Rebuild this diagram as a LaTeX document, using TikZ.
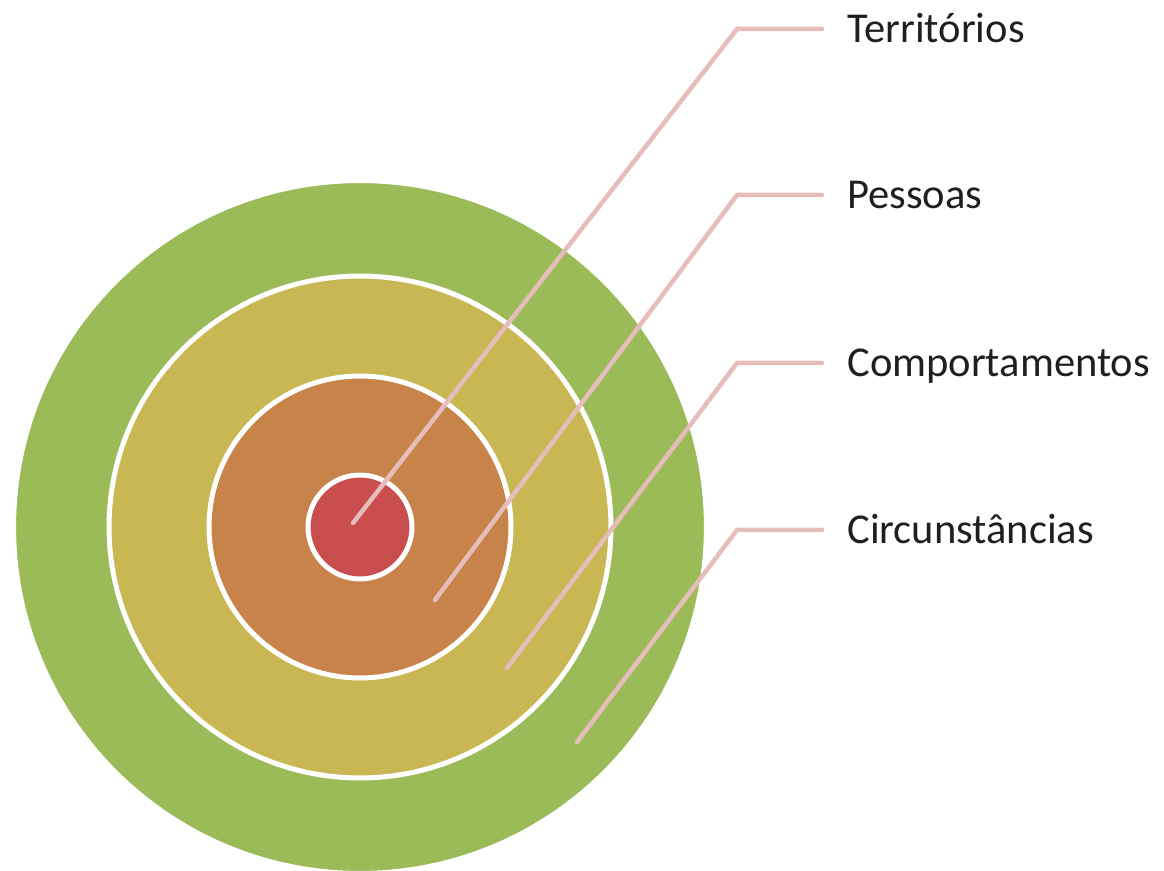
\documentclass[tikz,border=0pt]{standalone}
\usepackage{fontspec}
\setmainfont{Carlito}
\usetikzlibrary{positioning}

\definecolor{ringgreen}{HTML}{9BBB59}
\definecolor{ringolive}{HTML}{C8B752}
\definecolor{ringorange}{HTML}{C8834B}
\definecolor{ringred}{HTML}{CB4E4E}
\definecolor{leaderpink}{HTML}{E6BDBA}
\definecolor{textgray}{HTML}{1F1F1F}

\begin{document}
\begin{tikzpicture}[x=0.02cm, y=-0.02cm,
  ring/.style={circle, draw=white, line width=0.1cm, inner sep=0pt},
  leader/.style={draw=leaderpink, line width=0.09cm, line cap=round},
  itemtext/.style={anchor=west, inner sep=0pt, text=textgray,
    text height=19.4pt, text depth=3.9pt, font=\fontsize{24.2}{29}\selectfont}]
\useasboundingbox (0,0) rectangle (1164,871);

% rings, outside in
\node[ring, fill=ringgreen, minimum size=13.86cm] (circRing) at (360,527) {};
\node[ring, fill=ringolive, minimum size=10.04cm] (compRing) at (360,527) {};
\node[ring, fill=ringorange, minimum size=6.04cm] (pessRing) at (360,527) {};
\node[ring, fill=ringred, minimum size=2.08cm] (terrRing) at (360,527) {};

% leader ends and bends
\coordinate (terrIn) at (353,523);
\coordinate (terrBend) at (737,29);
\coordinate (terrTip) at (822,29);
\coordinate (pessIn) at (435,600);
\coordinate (pessBend) at (737,195);
\coordinate (pessTip) at (822,195);
\coordinate (compIn) at (507,668);
\coordinate (compBend) at (737,363);
\coordinate (compTip) at (822,363);
\coordinate (circIn) at (577,742);
\coordinate (circBend) at (737,530);
\coordinate (circTip) at (822,530);

\node[itemtext, right=0.5cm of terrTip] (terrText) {Territórios};
\node[itemtext, right=0.5cm of pessTip] (pessText) {Pessoas};
\node[itemtext, right=0.5cm of compTip] (compText) {Comportamentos};
\node[itemtext, right=0.5cm of circTip] (circText) {Circunstâncias};

\draw[leader] (terrIn) -- (terrBend) -- (terrTip);
\draw[leader] (pessIn) -- (pessBend) -- (pessTip);
\draw[leader] (compIn) -- (compBend) -- (compTip);
\draw[leader] (circIn) -- (circBend) -- (circTip);
\end{tikzpicture}
\end{document}
